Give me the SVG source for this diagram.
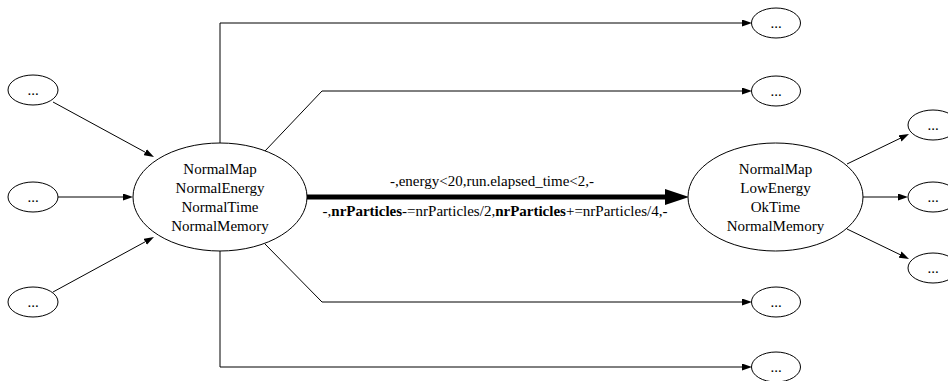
<svg xmlns="http://www.w3.org/2000/svg" width="948" height="381" viewBox="0 0 948 381">
<style>
.n ellipse{fill:#fff;stroke:#000;stroke-width:1}
text{font-family:"Liberation Serif","Times New Roman",serif;font-size:15px;fill:#000;text-anchor:middle}
.e{fill:none;stroke:#000;stroke-width:1}
.thick{fill:none;stroke:#000;stroke-width:5}
</style>
<defs>
<marker id="a" viewBox="0 0 10 7" refX="0" refY="3.5" markerWidth="10" markerHeight="7" markerUnits="userSpaceOnUse" orient="auto"><path d="M0,0 L10,3.5 L0,7 z" fill="#000"/></marker>
<marker id="A" viewBox="0 0 24 16" refX="0" refY="8" markerWidth="24" markerHeight="16" markerUnits="userSpaceOnUse" orient="auto"><path d="M0,0 L24,8 L0,16 z" fill="#000"/></marker>
</defs>
<g id="edges">
<path class="e" d="M53,102 L145.2,152.2" marker-end="url(#a)"/>
<path class="e" d="M58,197 L123,197" marker-end="url(#a)"/>
<path class="e" d="M53,292 L145.2,241.8" marker-end="url(#a)"/>
<path class="e" d="M220,143 L220,23 L742,23" marker-end="url(#a)"/>
<path class="e" d="M265,151 L322,91 L742,91" marker-end="url(#a)"/>
<path class="e" d="M265,244 L322,302 L742,302" marker-end="url(#a)"/>
<path class="e" d="M220,251 L220,367 L742,367" marker-end="url(#a)"/>
<path class="thick" d="M307,197 L665,197" marker-end="url(#A)"/>
<text x="492" y="186">-,energy&lt;20,run.elapsed_time&lt;2,-</text>
<text x="495" y="216">-,<tspan font-weight="bold">nrParticles</tspan>-=nrParticles/2,<tspan font-weight="bold">nrParticles</tspan>+=nrParticles/4,-</text>
<path class="e" d="M847,164 L900,138.4" marker-end="url(#a)"/>
<path class="e" d="M863,197 L898,197" marker-end="url(#a)"/>
<path class="e" d="M847,229 L900,254.6" marker-end="url(#a)"/>
</g>
<g id="in1" class="n"><ellipse cx="33" cy="90" rx="25" ry="15"/><text x="33" y="95">...</text></g>
<g id="in2" class="n"><ellipse cx="33" cy="197" rx="25" ry="15"/><text x="33" y="202">...</text></g>
<g id="in3" class="n"><ellipse cx="33" cy="302" rx="25" ry="15"/><text x="33" y="307">...</text></g>
<g id="stateA" class="n"><ellipse cx="220" cy="197" rx="87" ry="54"/>
<text x="220" y="174">NormalMap</text><text x="220" y="193">NormalEnergy</text><text x="220" y="212">NormalTime</text><text x="220" y="231">NormalMemory</text></g>
<g id="stateB" class="n"><ellipse cx="775.5" cy="197" rx="87.5" ry="54"/>
<text x="775.5" y="174">NormalMap</text><text x="775.5" y="193">LowEnergy</text><text x="775.5" y="212">OkTime</text><text x="775.5" y="231">NormalMemory</text></g>
<g id="out1" class="n"><ellipse cx="776" cy="23" rx="24.5" ry="15"/><text x="776" y="28">...</text></g>
<g id="out2" class="n"><ellipse cx="776" cy="91" rx="24.5" ry="15"/><text x="776" y="96">...</text></g>
<g id="out3" class="n"><ellipse cx="776" cy="302" rx="24.5" ry="15"/><text x="776" y="307">...</text></g>
<g id="out4" class="n"><ellipse cx="776" cy="367" rx="24.5" ry="15"/><text x="776" y="372">...</text></g>
<g id="r1" class="n"><ellipse cx="933" cy="125" rx="25" ry="15"/><text x="933" y="130">...</text></g>
<g id="r2" class="n"><ellipse cx="933" cy="197" rx="25" ry="15"/><text x="933" y="202">...</text></g>
<g id="r3" class="n"><ellipse cx="933" cy="268" rx="25" ry="15"/><text x="933" y="273">...</text></g>
</svg>
